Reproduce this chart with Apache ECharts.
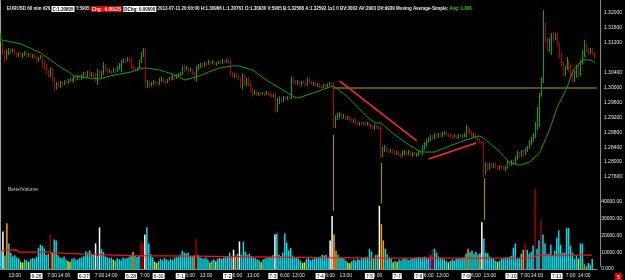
<!DOCTYPE html>
<html><head><meta charset="utf-8">
<script src="https://cdn.jsdelivr.net/npm/echarts/dist/echarts.min.js"></script>
<style>html,body{margin:0;padding:0;background:#000}#c{width:625px;height:280px}</style>
</head><body><div id="c"></div>
<script>
// OHLC bars, [open, close, low, high] in 1/10000 of a price unit (pips)
const bars0625 = [[13128,13141,13122,13146],[13122,13093,13087,13125],[13095,13079,13069,13101],[13079,13095,13074,13101],[13095,13101,13087,13106],[13101,13095,13090,13106],[13095,13101,13093,13104],[13101,13093,13087,13104],[13093,13087,13082,13095],[13087,13093,13082,13095],[13093,13085,13082,13095],[13085,13090,13079,13093],[13090,13095,13085,13098],[13095,13087,13082,13098],[13087,13090,13082,13093],[13090,13085,13079,13093]];
const bars0626 = [[13085,13087,13079,13090],[13087,13082,13077,13090],[13082,13071,13066,13085],[13071,13079,13069,13082],[13079,13085,13077,13087],[13085,13063,13053,13087],[13063,13058,13047,13069],[13058,13042,13036,13063],[13042,13034,13026,13047],[13034,13047,13028,13055],[13047,13026,13015,13053],[13026,12999,12988,13028],[12999,13010,12994,13015],[13010,13004,12999,13015],[13004,13012,12999,13018],[13012,13010,13004,13018],[13010,13015,13007,13020],[13015,13012,13007,13020],[13012,13018,13010,13023],[13018,13020,13015,13026],[13020,13018,13012,13026],[13018,13026,13015,13031],[13026,13023,13018,13031],[13023,13028,13020,13034],[13028,13026,13020,13034]];
const bars0627 = [[13026,13031,13020,13036],[13031,13036,13026,13042],[13036,13028,13023,13042],[13028,13039,13026,13045],[13039,13031,13026,13047],[13031,13036,13028,13042],[13036,13034,13028,13042],[13034,13020,13015,13039],[13020,13042,13007,13050],[13042,13031,13026,13047],[13031,13039,13026,13045],[13039,13061,13034,13069],[13061,13047,13042,13063],[13047,13042,13036,13053],[13042,13045,13039,13050],[13045,13042,13036,13047],[13042,13047,13039,13053],[13047,13045,13039,13050],[13045,13053,13042,13058],[13053,13061,13047,13066],[13058,13071,13042,13074],[13071,13074,13066,13079],[13074,13071,13066,13079]];
const bars0628 = [[13071,13077,13069,13082],[13077,13074,13069,13082],[13074,13055,13050,13079],[13055,13050,13045,13058],[13050,13047,13042,13053],[13047,13053,13045,13055],[13053,13069,13050,13074],[13069,13085,13066,13095],[13085,13101,13082,13106],[13101,13007,12999,13106],[13007,13012,12999,13020],[13012,13004,12999,13018],[13004,13010,13002,13015],[13010,13015,13007,13020]];
const bars0630 = [[13015,13012,13007,13018],[13012,13010,13007,13015],[13010,13020,13007,13026],[13020,13023,13015,13028],[13023,13018,13012,13026],[13018,13015,13010,13020],[13015,13020,13012,13023],[13020,13026,13018,13028],[13026,13023,13020,13031],[13023,13028,13020,13034],[13028,13026,13020,13031]];
const bars0701 = [[13026,13031,13023,13036],[13031,13034,13028,13039],[13034,13036,13031,13042],[13036,13053,13034,13058],[13053,13047,13042,13061],[13047,13053,13045,13058],[13053,13045,13039,13055],[13045,13047,13042,13053],[13047,13039,13034,13050],[13039,13026,13018,13042],[13026,13053,13015,13058],[13053,13058,13047,13063],[13058,13061,13053,13066],[13061,13058,13053,13066],[13058,13066,13055,13069],[13066,13063,13058,13069],[13063,13069,13061,13074],[13069,13066,13061,13071],[13066,13069,13063,13074],[13069,13063,13061,13071],[13063,13066,13058,13069],[13066,13069,13063,13071],[13069,13066,13063,13074],[13066,13071,13063,13077]];
const bars0702 = [[13071,13069,13066,13074],[13069,13071,13066,13077],[13071,13069,13063,13077],[13069,13036,13031,13074],[13036,13031,13026,13042],[13031,13036,13026,13039],[13036,13031,13026,13039],[13031,13026,13020,13034],[13026,13004,12999,13028],[13004,13031,12994,13039],[13031,13007,13002,13036],[13007,13020,13004,13026],[13020,13010,13002,13028],[13010,12994,12988,13015],[12994,12983,12975,12999],[12983,12988,12980,12994],[12988,12983,12977,12991],[12983,12986,12977,12988],[12986,12983,12977,12988],[12983,12986,12980,12988],[12986,12983,12977,12988],[12983,12988,12980,12991],[12988,12983,12977,12991]];
const bars0703 = [[12983,12980,12975,12986],[12980,12977,12972,12983],[12977,12980,12972,12983],[12980,12940,12932,12986],[12940,12967,12935,12972],[12967,12969,12956,12977],[12969,12964,12959,12975],[12964,12972,12961,12977],[12972,12969,12967,12977],[12969,12975,12967,12977],[12975,12972,12967,12977],[12972,13020,12969,13031],[13020,13015,13010,13026],[13015,13012,13007,13020],[13012,13015,13007,13020],[13015,13010,13007,13018],[13010,13015,13004,13018],[13015,13012,13010,13018],[13012,13007,13004,13015],[13007,13020,13004,13026],[13020,13015,13012,13028],[13015,13010,13007,13018],[13010,13012,13004,13015],[13012,13007,13002,13015]];
const bars0704 = [[13007,13010,13002,13012],[13010,13004,12999,13012],[13004,13002,12996,13007],[13002,13007,12999,13010],[13007,13002,12996,13010],[13002,13007,12999,13012],[13007,13010,13004,13015],[13010,13004,13002,13015],[13004,12900,12892,13012],[12900,12918,12892,12926],[12918,12924,12913,12932],[12924,12929,12918,12935],[12929,12921,12916,12932],[12921,12924,12916,12929],[12924,12918,12913,12926],[12918,12921,12913,12924],[12921,12916,12910,12924],[12916,12910,12908,12918],[12910,12913,12905,12916],[12913,12908,12902,12916],[12908,12902,12897,12910],[12902,12905,12897,12908],[12905,12902,12897,12908],[12902,12905,12900,12908]];
const bars0705 = [[12905,12900,12897,12908],[12900,12905,12897,12908],[12905,12900,12894,12908],[12900,12894,12889,12902],[12894,12892,12886,12897],[12892,12897,12886,12902],[12897,12894,12889,12900],[12894,12892,12886,12897],[12892,12819,12811,12900],[12819,12833,12814,12841],[12833,12841,12827,12846],[12841,12833,12827,12843],[12833,12830,12825,12835],[12830,12833,12825,12835],[12833,12827,12822,12835]];
const bars0707 = [[12827,12825,12819,12833],[12825,12827,12819,12830],[12827,12822,12816,12830],[12822,12816,12811,12825],[12816,12825,12814,12830],[12825,12827,12819,12833],[12827,12822,12816,12830],[12822,12827,12819,12833],[12827,12822,12816,12830],[12822,12825,12814,12827],[12825,12819,12816,12827]];
const bars0708 = [[12819,12822,12814,12825],[12822,12827,12816,12830],[12827,12822,12819,12833],[12822,12841,12819,12846],[12841,12846,12833,12854],[12846,12857,12841,12862],[12857,12862,12851,12867],[12862,12867,12857,12873],[12867,12865,12859,12873],[12865,12875,12862,12878],[12875,12867,12865,12878],[12867,12873,12865,12878],[12873,12870,12867,12878],[12870,12875,12867,12881],[12875,12878,12873,12883],[12878,12875,12870,12881],[12875,12873,12867,12878],[12873,12870,12865,12875],[12870,12867,12862,12873],[12867,12870,12865,12875],[12870,12867,12862,12873],[12867,12873,12862,12875],[12873,12870,12865,12875],[12870,12873,12867,12875]];
const bars0709 = [[12873,12875,12867,12878],[12875,12892,12867,12900],[12892,12886,12878,12897],[12886,12881,12873,12889],[12881,12873,12867,12883],[12873,12875,12865,12878],[12875,12867,12862,12878],[12867,12862,12857,12870],[12862,12857,12851,12865],[12857,12851,12846,12859],[12851,12774,12760,12857],[12774,12792,12766,12800],[12792,12784,12776,12798],[12784,12792,12779,12798],[12792,12790,12784,12798],[12790,12795,12784,12798],[12795,12787,12782,12798],[12787,12784,12779,12792],[12784,12790,12779,12792],[12790,12787,12782,12792],[12787,12782,12779,12790],[12782,12787,12776,12790]];
const bars0710 = [[12787,12798,12782,12803],[12798,12792,12787,12803],[12792,12800,12790,12806],[12800,12798,12792,12806],[12798,12811,12795,12816],[12811,12822,12806,12830],[12822,12816,12811,12827],[12816,12827,12814,12833],[12827,12822,12816,12835],[12822,12833,12819,12838],[12833,12841,12827,12843],[12838,12854,12835,12859],[12851,12862,12846,12867],[12859,12873,12854,12878],[12873,12900,12865,12908],[12897,12940,12886,12948],[12935,12977,12894,12986],[12977,13020,12975,13028],[13020,13181,13012,13208],[13171,13128,13120,13176],[13128,13106,13095,13133],[13106,13128,13095,13133],[13101,13141,13087,13146],[13141,13133,13122,13149]];
const bars0711 = [[13133,13138,13128,13146],[13138,13114,13109,13149],[13114,13087,13079,13122],[13087,13061,13055,13093],[13061,13042,13028,13069],[13042,13053,13031,13058],[13053,13069,13047,13082],[13069,13058,13042,13074],[13058,13034,13026,13063],[13034,13020,13012,13042],[13020,13036,13015,13047],[13036,13047,13026,13061],[13047,13036,13026,13066],[13036,13069,13031,13074],[13069,13087,13061,13101],[13087,13112,13082,13128],[13112,13101,13093,13117],[13101,13095,13087,13106],[13095,13101,13090,13106],[13101,13093,13087,13106],[13093,13080.5,13076.1,13096.6]];

// Volume per bar
const vol0625 = [10900,22400,8000,27300,15200,9700,7500,8200,6800,6400,4400,3800,5600,5200,4200,5900];
const vol0626 = [6600,6200,7200,12500,14500,13800,12200,8500,9000,20600,9700,17600,17000,8200,6800,6600,7400,5600,4900,4200,6000,6600,5300,5800,6600];
const vol0627 = [7000,7600,10500,9800,11200,9200,8400,15200,7800,24800,11800,10200,7600,7000,6400,6800,5600,5000,6400,5800,5200,6800,6200];
const vol0628 = [6600,7200,7900,10300,7900,7200,8200,16400,15000,20600,24800,15200,8800,7000];
const vol0630 = [4400,3600,4800,6000,5300,6600,5700,5000,6200,5400,6800];
const vol0701 = [7000,7400,8600,10900,9700,9200,9700,7800,7400,7900,18200,8400,7000,6400,6200,6800,5700,3800,5100,5800,4600,6200,6600,6000];
const vol0702 = [6800,7000,7600,9700,6800,11500,8000,9000,16400,8600,16400,10300,8400,9000,7900,6800,6600,5800,5200,4000,5600,6200,6800];
const vol0703 = [7000,7200,8200,20600,21200,8600,7800,9700,21200,15800,11000,12500,8000,7000,6800,6200,5000,3600,4000,6000,6600,5300,5800,6400];
const vol0704 = [6800,7000,7400,8500,8000,8500,7000,17000,31500,20600,10900,8500,6800,6600,6200,5000,3800,3400,4600,5600,5000,6200,5400,6600];
const vol0705 = [7000,7200,7400,12100,10300,6100,8200,8500,37600,26700,17000,12100,8800,7000,6200];
const vol0707 = [4000,4800,4200,5600,5200,6000,6600,5800,5300,6400,6200];
const vol0708 = [6800,7000,7300,6800,7000,7400,6800,6600,8500,12100,12100,9700,7400,6800,6400,5800,5000,4000,4800,5800,5200,6000,6600,6200];
const vol0709 = [6800,7200,9200,12100,10000,11000,9100,10300,8600,9400,27900,18200,9700,9400,7400,6600,6200,5000,4200,5000,6000,6400];
const vol0710 = [6800,7000,7300,7900,12700,15200,6100,6700,9100,11500,15800,11500,9000,10200,14000,47900,12100,17000,29700,20600,15200,9100,9100,14500];
const vol0711 = [8000,10900,18500,23000,14500,9700,9700,24500,24500,13900,9700,6100,8000,6100,15200,15200,3000,1800,3600,2400,5905];

// BetterVolume bar classes (default: normal)
const volWhite = [1,48,50,73,118,121,139,167,168,192,244];
const volOrange = [3,26,67,98,119,169,170,189,193,194,237,243,265];
const volRed = [25,71,72,99,219,266,271,274];
const volYellow = [10,11,14,34,35,57,78,79,106,109,132,153,154,176,177,199,201,227,252,293];
const volMagenta = [218];
const volOlive = [296,297];

// Volume average line [bar, value]
const volAvg = [[0,10700],[2,11300],[8,11300],[9,10100],[24,10100],[25,9500],[31,9500],[32,8900],[42,8900],[43,8300],[66,8000],[98,7700],[160,6800],[200,6500],[270,6500],[272,8300],[300,8300]];

// Simple moving average (20) [bar, pips]
const maPts = [[0,13128],[10,13117],[20,13093],[25,13074],[30,13055],[35,13039],[37,13031],[43,13026],[50,13023],[55,13031],[60,13036],[66,13042],[71,13052],[74,13052],[80,13047],[85,13039],[90,13028],[93,13020],[100,13031],[105,13042],[110,13052],[117,13058],[120,13058],[127,13047],[134,13020],[140,13001],[145,12985],[149,12972],[152,12975],[159,12988],[165,12999],[168,13004],[170,12996],[175,12975],[180,12948],[185,12921],[189,12905],[192,12905],[197,12881],[201,12865],[206,12846],[212,12827],[219,12827],[232,12854],[241,12870],[243,12867],[251,12832],[257,12798],[262,12792],[267,12800],[272,12824],[277,12886],[281,12948],[286,13001],[289,13047],[294,13074],[298,13074],[300,13066]];

// Drawings
const trendLines = [[171,1.3018,210,1.2857],[216,1.2808,240,1.2851]];
const markerLines = [[168,1.2873,1.2669],[192,1.2798,1.2690],[244,1.2757,1.2645]];
const levelLine = [168,301,1.3000];
const lastPrice = 1.30805;

// Axis tick labels
const dateIdx = [18,42,66,80,91,115,138,162,187,201,212,236,259,282];
const dateText = ['6-26','6-27','6-28','6-30','7-1','7-2','7-3','7-4','7-5','7-7','7-8','7-9','7-10','7-11'];
const timeIdx = [7,26,32,50,56,73,96,104,120,128,144,151,167,175,191,217,224,241,248,266,272,289,296];
const timeText = ['13:00','7:00','14:00','7:00','14:00','7:00','6:00','13:00','6:00','13:00','6:00','13:00','6:00','13:00','6:00','6:00','13:00','6:00','13:00','7:00','14:00','7:00','14:00'];

const headerParts = {
  sym: 'EURUSD 60 min #20 ', c: 'C:1.30805', t: ' T:5905 ', chg: 'Chg: -0.00125', dchg: 'DChg: 0.00000',
  rest: ' 2013-07-11 20:00:00 H:1.30966 L:1.30761 O:1.30930 V:5905 B:1.32568 A:1.32592 1x1 0 BV:3002 AV:2903 DV:9939 Moving Average-Simple: ',
  avg: 'Avg: 1.306'
};

// ---------------- build ----------------
const FONT = 'Liberation Sans';
const HS = 4.5;
const NCAT = 303;
const cats = []; for (let i = 0; i < NCAT; i++) cats.push(String(i));
const bars = [].concat(bars0625,bars0626,bars0627,bars0628,bars0630,bars0701,bars0702,bars0703,bars0704,bars0705,bars0707,bars0708,bars0709,bars0710,bars0711);
const vols = [].concat(vol0625,vol0626,vol0627,vol0628,vol0630,vol0701,vol0702,vol0703,vol0704,vol0705,vol0707,vol0708,vol0709,vol0710,vol0711);
const candle = bars.map(b => [b[0]/1e4, b[1]/1e4, b[2]/1e4, b[3]/1e4]);
const UP = '#0aa80a', DOWN = '#b00000';
const VCOL = {c:'#00dde8', w:'#ffffff', o:'#ff9a00', r:'#a00000', y:'#e8e800', m:'#ff00ff', l:'#a09800'};
const cls = {};
volWhite.forEach(i => cls[i]='w'); volOrange.forEach(i => cls[i]='o'); volRed.forEach(i => cls[i]='r');
volYellow.forEach(i => cls[i]='y'); volMagenta.forEach(i => cls[i]='m'); volOlive.forEach(i => cls[i]='l');
const volData = vols.map((v, i) => ({value: v, itemStyle: {color: VCOL[cls[i] || 'c']}}));
const labelMap = {};
dateIdx.forEach((d, k) => labelMap[d] = '{d|' + dateText[k] + '}');
timeIdx.forEach((d, k) => labelMap[d] = '{t|' + timeText[k] + '}');

const markLineData = [];
trendLines.forEach(t => markLineData.push([{coord: [t[0], t[1]], lineStyle: {color: '#ff2a2a', width: 1.5, type: 'solid'}}, {coord: [t[2], t[3]]}]));
markerLines.forEach(m => markLineData.push([{coord: [m[0], m[1]], lineStyle: {color: '#9a8a00', width: 1.2, type: 'solid'}}, {coord: [m[0], m[2]]}]));
markLineData.push([{coord: [levelLine[0], levelLine[2]], lineStyle: {color: '#7a6c00', width: 1.6, type: 'solid'}}, {coord: [levelLine[1], levelLine[2]]}]);

const chart = echarts.init(document.getElementById('c'));
chart.setOption({
  backgroundColor: '#000',
  animation: false,
  textStyle: {fontFamily: FONT},
  title: [
    {left: 2, top: 1, text: '{w|' + headerParts.sym + '}{b|' + headerParts.c + '}{w|' + headerParts.t + '}{r|' + headerParts.chg + '}{w| }{b|' + headerParts.dchg + '}{w|' + headerParts.rest + '}{g|' + headerParts.avg + '}',
     textStyle: {fontSize: HS, fontFamily: FONT, rich: {
       w: {color: '#ececec', fontSize: HS, fontFamily: FONT},
       b: {color: '#000', backgroundColor: '#fff', fontSize: HS, padding: [1,1,0,1], fontFamily: FONT},
       r: {color: '#fff', backgroundColor: '#e00000', fontSize: HS, padding: [1,1,0,1], fontFamily: FONT},
       g: {color: '#22d022', fontSize: HS, fontFamily: FONT}}}},
    {left: 3, top: 182, text: 'BetterVolume', textStyle: {color: '#c8c8c8', fontSize: 5, fontWeight: 'normal', fontFamily: FONT}},
    {right: 3, bottom: 0, text: '5', backgroundColor: '#e00000', padding: [1,2,0,2], textStyle: {color: '#fff', fontSize: 6, fontWeight: 'normal', fontFamily: FONT}}
  ],
  grid: [
    {left: 0, right: 22, top: 0, bottom: 13.6},
    {left: 0, right: 22, top: 180, bottom: 11}
  ],
  xAxis: [
    {type: 'category', gridIndex: 0, data: cats, show: false},
    {type: 'category', gridIndex: 1, data: cats,
     axisLine: {show: true, lineStyle: {color: '#8c8c8c'}}, axisTick: {show: false},
     axisLabel: {interval: (idx) => labelMap[idx] !== undefined, formatter: (v, idx) => labelMap[idx] || '', margin: 4,
       rich: {d: {color: '#000', backgroundColor: '#fff', fontSize: 5, padding: [1,1,0,1], fontFamily: FONT},
              t: {color: '#e6e6e6', fontSize: 5, fontFamily: FONT}}}}
  ],
  yAxis: [
    {type: 'value', gridIndex: 0, position: 'right', min: 1.252, max: 1.323488, interval: 0.004,
     axisLine: {show: true, lineStyle: {color: '#8c8c8c'}}, axisTick: {show: false}, splitLine: {show: false},
     axisLabel: {color: '#e6e6e6', fontSize: 5, margin: 4, fontFamily: FONT,
       formatter: v => (v > 1.2755 && v < 1.3205 && Math.abs(v - 1.308) > 1e-6) ? v.toFixed(5) : ''}},
    {type: 'value', gridIndex: 1, position: 'right', min: 0, max: 53000, interval: 10000,
     axisLine: {show: false}, axisTick: {show: false}, splitLine: {show: false},
     axisLabel: {color: '#e6e6e6', fontSize: 5, margin: 4, fontFamily: FONT,
       formatter: v => v === 0 ? '0.000' : (v <= 40000 ? v.toFixed(2) : '')}},
    {type: 'value', gridIndex: 0, position: 'left', min: 1.252, max: 1.323488, show: true,
     axisLine: {show: true, lineStyle: {color: '#a0a0a0'}}, axisTick: {show: false}, axisLabel: {show: false}, splitLine: {show: false}}
  ],
  series: [
    {type: 'candlestick', name: 'EURUSD', xAxisIndex: 0, yAxisIndex: 0, data: candle, barWidth: 1, z: 3,
     itemStyle: {color: UP, color0: DOWN, borderColor: UP, borderColor0: DOWN, borderColorDoji: UP, borderWidth: 1},
     emphasis: {disabled: true}},
    {type: 'line', name: 'MA', xAxisIndex: 0, yAxisIndex: 0, data: maPts.map(p => [p[0], p[1]/1e4]),
     showSymbol: false, symbol: 'none', lineStyle: {color: '#17a017', width: 1}, z: 4,
     markLine: {silent: true, symbol: ['none','none'], label: {show: false}, data: markLineData.concat([
       {yAxis: lastPrice, lineStyle: {opacity: 0, width: 0},
        label: {show: true, position: 'end', formatter: lastPrice.toFixed(5), color: '#000', backgroundColor: '#fff',
                fontSize: 5, padding: [1,1,0,1], distance: 4, fontFamily: FONT}}])}},
    {type: 'bar', name: 'Volume', xAxisIndex: 1, yAxisIndex: 1, data: volData, barWidth: 1.5, z: 2},
    {type: 'line', name: 'VolAvg', xAxisIndex: 1, yAxisIndex: 1, data: volAvg, showSymbol: false, symbol: 'none',
     lineStyle: {color: '#ff1010', width: 1.3}, z: 5}
  ]
});
</script></body></html>
